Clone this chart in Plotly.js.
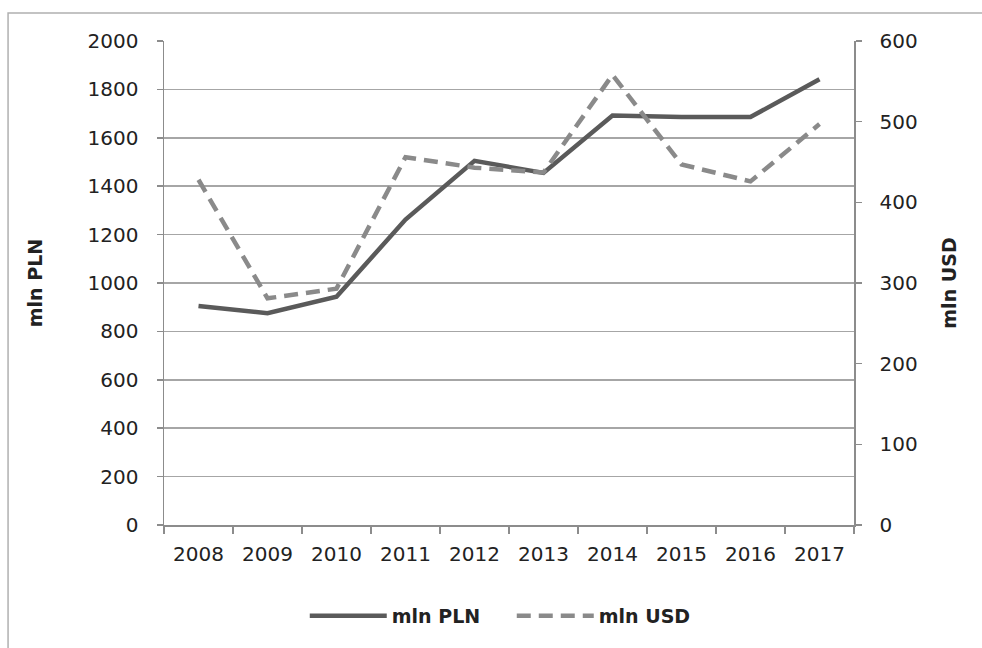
<!DOCTYPE html>
<html>
<head>
<meta charset="utf-8">
<script src="https://cdn.plot.ly/plotly-3.0.1.min.js"></script>
<style>html,body{margin:0;padding:0;background:#fff;}#chart{width:982px;height:648px;}</style>
</head>
<body>
<div id="chart"></div>
<script>
const years = ['2008','2009','2010','2011','2012','2013','2014','2015','2016','2017'];
const mlnPLN = [905, 875, 943, 1262, 1505, 1455, 1692, 1686, 1686, 1842];
const mlnUSD = [428, 281, 293, 456, 443, 437, 558, 447, 426, 497];
const leftTicks = [0, 200, 400, 600, 800, 1000, 1200, 1400, 1600, 1800, 2000];
const rightTicks = [0, 100, 200, 300, 400, 500, 600];

const font = 'DejaVu Sans, Verdana, sans-serif';
const txt = '#222';

const traces = [
  {x: years, y: mlnPLN, name: 'mln PLN', type: 'scatter', mode: 'lines',
   line: {color: '#5a5a5a', width: 4.5}, yaxis: 'y'},
  {x: years, y: mlnUSD, name: 'mln USD', type: 'scatter', mode: 'lines',
   line: {color: '#8a8a8a', width: 4.5, dash: '14px,8px'}, yaxis: 'y2'}
];

const layout = {
  width: 982, height: 648,
  margin: {l: 164, r: 128, t: 41, b: 123},
  paper_bgcolor: '#fff', plot_bgcolor: '#fff',
  font: {family: font, size: 20, color: txt},
  showlegend: true,
  legend: {orientation: 'h', x: 0.204, xanchor: 'left', y: -0.188, yanchor: 'middle',
           font: {family: font, size: 19, color: txt, weight: 'bold'}, itemwidth: 77,
           entrywidth: 115, entrywidthmode: 'pixels', traceorder: 'normal'},
  xaxis: {type: 'category', range: [-0.5, 9.5], tickson: 'boundaries',
          ticks: 'outside', ticklen: 7, tickcolor: '#8c8c8c', tickwidth: 1.5,
          showline: true, linecolor: '#8c8c8c', linewidth: 1.5,
          showgrid: false, zeroline: false,
          tickfont: {family: font, size: 20, color: txt}, ticklabelstandoff: 10},
  yaxis: {range: [0, 2000], tickvals: leftTicks, ticks: 'outside', ticklen: 6,
          tickcolor: '#8c8c8c', tickwidth: 1.5,
          showline: true, linecolor: '#8c8c8c', linewidth: 1.5,
          showgrid: true, gridcolor: '#a6a6a6', gridwidth: 1.5, zeroline: false,
          tickfont: {family: font, size: 20, color: txt}, ticklabelstandoff: 14,
          title: {text: 'mln PLN', font: {family: font, size: 19, color: txt, weight: 'bold'}, standoff: 40}},
  yaxis2: {range: [0, 600], tickvals: rightTicks, overlaying: 'y', side: 'right',
           ticks: 'outside', ticklen: 6, tickcolor: '#8c8c8c', tickwidth: 1.5,
           showline: true, linecolor: '#8c8c8c', linewidth: 1.5,
           showgrid: false, zeroline: false,
           tickfont: {family: font, size: 20, color: txt}, ticklabelstandoff: 14,
           title: {text: 'mln USD', font: {family: font, size: 19, color: txt, weight: 'bold'}, standoff: 26}},
  shapes: [
    {type: 'rect', xref: 'paper', yref: 'paper', x0: -0.226, x1: 1.4, y0: -0.5, y1: 1.0579,
     line: {color: '#b0b0b0', width: 1.5}, fillcolor: 'rgba(0,0,0,0)', layer: 'below'}
  ]
};

Plotly.newPlot('chart', traces, layout, {displayModeBar: false, staticPlot: true});
</script>
</body>
</html>
